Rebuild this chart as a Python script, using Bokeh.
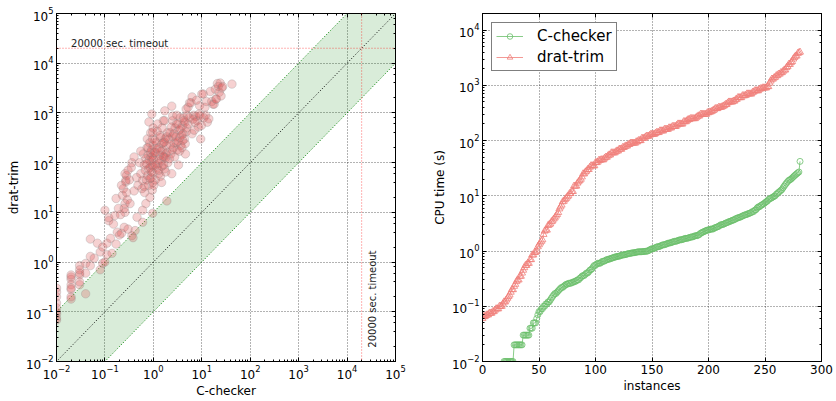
import numpy as np
from bokeh.plotting import figure
from bokeh.layouts import row
from bokeh.models import (LogAxis, LinearAxis, Span, Legend, LegendItem, FixedTicker,
                          LogTicker, CustomJSTickFormatter)
from bokeh.embed import file_html
from bokeh.resources import INLINE
from bokeh.core.properties import value

# ---------------- data (seconds) ----------------
# paired runtimes per instance: C-checker time, drat-trim time
c_checker = [
    # C-checker reported 0.00 s
    0.0, 0.0, 0.0, 0.0, 0.0, 0.0, 0.0, 0.0, 0.0, 0.0,
    0.0, 0.0, 0.0, 0.0, 0.0, 0.0, 0.0, 0.0, 0.0,
    0.01, 0.01, 0.01, 0.01, 0.01, 0.01, 0.01, 0.01, 0.01,
    0.02, 0.02, 0.02, 0.02, 0.02, 0.02, 0.02, 0.02,
    0.03, 0.03, 0.03, 0.03, 0.03, 0.03,
    0.04, 0.04, 0.04, 0.05, 0.05, 0.05,
    0.06, 0.07, 0.08, 0.09, 0.08, 0.1, 0.09,
    0.11, 0.11, 0.12, 0.12, 0.13, 0.14, 0.15, 0.16, 0.17, 0.17, 0.18, 0.19, 0.2, 0.1,
    0.22, 0.25, 0.26, 0.26, 0.27, 0.27, 0.28, 0.26, 0.21, 0.23, 0.24, 0.25, 0.29, 0.3, 0.28, 0.22, 0.3,
    0.36, 0.38, 0.42, 0.36, 0.4, 0.33, 0.45, 0.35, 0.4, 0.48, 0.32, 0.46,
    0.52, 0.55, 0.58, 0.6, 0.6, 0.62, 0.65, 0.66, 0.68, 0.7, 0.7, 0.72, 0.74, 0.75, 0.76, 0.78,
    0.78, 0.8, 0.8, 0.81, 0.82, 0.84, 0.85, 0.86, 0.87, 0.88, 0.9, 0.9, 0.91, 0.92, 0.93, 0.93,
    0.94, 0.95, 0.96, 0.97, 0.97, 0.97, 0.97, 0.98, 0.98, 0.99, 0.99, 0.6, 0.65, 0.72, 0.85, 0.55,
    1.0, 1.05, 1.1, 1.1, 1.15, 1.2, 1.2, 1.25, 1.3, 1.3, 1.35, 1.4, 1.4, 1.45, 1.5, 1.5,
    1.55, 1.6, 1.6, 1.65, 1.7, 1.7, 1.75, 1.8, 1.8, 1.85, 1.9, 1.9, 1.95, 2.0, 1.02, 1.08,
    1.12, 1.18, 1.22, 1.28, 1.32, 1.38, 1.42, 1.48, 1.52, 1.58, 1.62, 1.68, 1.72, 1.78, 1.88,
    2.1, 2.2, 2.3, 2.4, 2.4, 2.5, 2.5, 2.5, 2.6, 2.7, 2.8, 3.0, 3.0, 3.1, 3.2, 3.3,
    3.4, 3.5, 3.6, 3.7, 3.9, 4.0, 4.1, 4.2, 4.4, 4.5, 4.6, 4.8, 5.0, 2.15, 2.25, 2.35,
    2.45, 2.65, 2.75, 2.9, 3.05, 3.25, 3.45, 3.65, 3.85, 4.05, 4.3, 4.55, 4.75, 4.9,
    5.2, 5.2, 5.6, 6.0, 6.3, 6.3, 6.8, 7.0, 7.5, 8.0, 8.5, 9.0, 9.2, 9.5, 5.5, 6.6, 7.2, 7.8, 8.8, 9.8,
    10.0, 10.7, 11.0, 11.6, 12.0, 12.5, 13.0, 14.0, 15.0, 16.0, 17.0, 18.0, 19.0, 19.5,
    20.0, 21.0, 22.0, 23.0, 24.0, 25.0, 26.0, 27.0, 42.0,
]
drat_trim = [
    0.06, 0.065, 0.065, 0.07, 0.07, 0.075, 0.075, 0.08, 0.08, 0.085,
    0.09, 0.09, 0.1, 0.1, 0.11, 0.12, 0.13, 0.14, 0.16,
    0.068, 0.075, 0.09, 0.1, 0.12, 0.15, 0.2, 0.25, 0.3,
    0.35, 0.18, 0.2, 0.28, 0.3, 0.45, 0.5, 0.55,
    0.35, 0.4, 0.55, 0.6, 0.85, 0.7,
    0.23, 0.6, 0.94, 0.85, 1.3, 2.9,
    1.2, 2.4, 0.7, 0.95, 1.6, 11.0, 2.0,
    2.4, 1.4, 6.8, 7.8, 3.0, 1.5, 5.8, 8.6, 2.3, 19.0, 4.0, 12.0, 3.5, 1.0,
    3.8, 5.0, 15.0, 10.0, 41.0, 44.0, 55.0, 60.0, 9.0, 22.0, 30.0, 12.0, 18.0, 4.6, 25.0, 35.0, 70.0,
    3.4, 3.1, 4.3, 100.0, 27.0, 15.0, 50.0, 80.0, 130.0, 35.0, 45.0, 8.0,
    100.0, 60.0, 30.0, 44.0, 6.3, 150.0, 90.0, 25.0, 70.0, 15.0, 120.0, 45.0, 200.0, 300.0, 55.0, 140.0,
    200.0, 75.0, 35.0, 660.0, 110.0, 250.0, 20.0, 80.0, 160.0, 400.0, 50.0, 130.0, 65.0, 180.0, 110.0, 950.0,
    90.0, 28.0, 300.0, 63.0, 40.0, 9.6, 410.0, 140.0, 85.0, 220.0, 500.0, 11.0, 33.0, 95.0, 48.0, 170.0,
    120.0, 160.0, 160.0, 45.0, 250.0, 78.0, 430.0, 95.0, 200.0, 60.0, 140.0, 53.0, 320.0, 110.0, 240.0, 85.0,
    180.0, 250.0, 700.0, 130.0, 75.0, 700.0, 300.0, 150.0, 65.0, 220.0, 160.0, 17.0, 400.0, 100.0, 35.0, 280.0,
    90.0, 190.0, 600.0, 70.0, 115.0, 350.0, 170.0, 40.0, 500.0, 135.0, 90.0, 260.0, 1100.0, 125.0, 330.0,
    300.0, 400.0, 150.0, 60.0, 1370.0, 340.0, 700.0, 870.0, 200.0, 250.0, 500.0, 600.0, 250.0, 180.0, 600.0, 90.0,
    450.0, 320.0, 800.0, 220.0, 200.0, 550.0, 380.0, 800.0, 300.0, 650.0, 150.0, 420.0, 900.0, 120.0, 230.0, 520.0,
    180.0, 380.0, 130.0, 330.0, 900.0, 270.0, 170.0, 480.0, 360.0, 280.0, 700.0, 240.0, 1200.0, 500.0,
    1300.0, 600.0, 1600.0, 1600.0, 2100.0, 380.0, 900.0, 450.0, 850.0, 700.0, 520.0, 1400.0, 870.0, 300.0,
    800.0, 750.0, 650.0, 1800.0, 950.0, 560.0,
    2400.0, 2400.0, 800.0, 1300.0, 900.0, 1700.0, 650.0, 760.0, 2700.0, 1700.0, 1500.0, 1500.0, 3000.0, 1900.0,
    1900.0, 3900.0, 3400.0, 2600.0, 4000.0, 2200.0, 3200.0, 3400.0, 3800.0,
]
timeout = 20000
timeout_label = "20000 sec. timeout"
instance_ticks = [0, 50, 100, 150, 200, 250, 300]
legend_labels = ["C-checker", "drat-trim"]

FONT = "DejaVu Sans"

c_arr = np.array(c_checker)
d_arr = np.array(drat_trim)
vis = c_arr > 0


def style_axis(ax, show=True):
    ax.axis_line_color = "black"
    ax.major_tick_in = 4
    ax.major_tick_out = 0
    ax.minor_tick_in = 2
    ax.minor_tick_out = 0
    ax.major_tick_line_color = "black"
    ax.minor_tick_line_color = "black"
    ax.major_label_text_font = FONT
    ax.major_label_text_color = "black"
    ax.major_label_text_font_size = "12px"
    ax.major_label_standoff = 3 if show else 0
    if not show:
        ax.formatter = CustomJSTickFormatter(code="return '';")
    ax.axis_label_text_font = FONT
    ax.axis_label_text_font_size = "12px"
    ax.axis_label_text_font_style = "normal"
    ax.axis_label_text_color = "black"
    ax.axis_label_standoff = 2


def style_grid(p):
    for g in (p.xgrid, p.ygrid):
        g.grid_line_color = "black"
        g.grid_line_alpha = 0.6
        g.grid_line_dash = "1 2"
        g.grid_line_width = 1


# ---------------- left: scatter ----------------
p1 = figure(width=420, height=401, x_axis_type="log", y_axis_type="log",
            x_range=(1e-2, 1e5), y_range=(1e-2, 1e5),
            output_backend="svg", toolbar_location=None,
            min_border_left=56, min_border_right=25, min_border_top=12, min_border_bottom=40)
p1.outline_line_color = "black"
p1.outline_line_width = 1
p1.xaxis.axis_label = "C-checker"
p1.yaxis.axis_label = "drat-trim"
style_axis(p1.xaxis[0])
style_axis(p1.yaxis[0])
top1 = LogAxis(ticker=LogTicker())
right1 = LogAxis(ticker=LogTicker())
style_axis(top1, False)
style_axis(right1, False)
p1.add_layout(top1, "above")
p1.add_layout(right1, "right")
style_grid(p1)

band_x = np.array([1e-3, 1e6])
p1.varea(x=band_x, y1=band_x / 10, y2=band_x * 10, fill_color="green", fill_alpha=0.15)
p1.line(band_x, band_x * 10, line_color="green", line_dash="1 2", line_width=1)
p1.line(band_x, band_x / 10, line_color="green", line_dash="1 2", line_width=1)
p1.line(band_x, band_x, line_color="black", line_dash="1 2", line_width=1)

p1.add_layout(Span(location=timeout, dimension="width", line_color="red",
                   line_alpha=0.6, line_dash="1 2", line_width=1))
p1.add_layout(Span(location=timeout, dimension="height", line_color="red",
                   line_alpha=0.6, line_dash="1 2", line_width=1))

p1.scatter(c_arr[vis], d_arr[vis], size=8.5, marker="circle",
           fill_color="#e05a5a", fill_alpha=0.28, line_color="#8a8a8a", line_alpha=0.28)

p1.text(x=[0.02], y=[2.5e4], text=[timeout_label], text_font=value(FONT),
        text_font_size="10px", text_baseline="alphabetic", text_align="left", text_color="#222222")
p1.text(x=[3.4e4], y=[0.019], text=[timeout_label], text_font=value(FONT), angle=np.pi / 2,
        text_font_size="10px", text_baseline="alphabetic", text_align="left", text_color="#222222")

# ---------------- right: cactus ----------------
c_sorted = np.sort(c_arr)
d_sorted = np.sort(d_arr)
idx = np.arange(len(c_sorted))
cpos = c_sorted > 0

p2 = figure(width=416, height=401, y_axis_type="log",
            x_range=(0, 300), y_range=(1e-2, 2e4),
            output_backend="svg", toolbar_location=None,
            min_border_left=62, min_border_right=15, min_border_top=13, min_border_bottom=37)
p2.outline_line_color = "black"
p2.outline_line_width = 1
p2.xaxis.axis_label = "instances"
p2.yaxis.axis_label = "CPU time (s)"
p2.xaxis.ticker = FixedTicker(ticks=instance_ticks)
style_axis(p2.xaxis[0])
style_axis(p2.yaxis[0])
top2 = LinearAxis(ticker=FixedTicker(ticks=instance_ticks))
right2 = LogAxis(ticker=LogTicker())
style_axis(top2, False)
style_axis(right2, False)
p2.add_layout(top2, "above")
p2.add_layout(right2, "right")
style_grid(p2)

green = "#6cbf6c"
red = "#f07f7a"
gl = p2.line(idx[cpos], c_sorted[cpos], line_color=green, line_width=1, line_alpha=0.8)
gs = p2.scatter(idx[cpos], c_sorted[cpos], marker="circle", size=6, fill_color=None,
                line_color=green, line_alpha=0.8)
rl = p2.line(idx, d_sorted, line_color=red, line_width=1, line_alpha=0.8)
rs = p2.scatter(idx, d_sorted, marker="triangle", size=7, fill_color=None,
                line_color=red, line_alpha=0.8)

# drop shadow behind the legend box (offset 3 px)
shadow = Legend(items=[LegendItem(label=" ", renderers=[gl]),
                       LegendItem(label=" ", renderers=[rl])],
                location="top_left")
shadow.label_text_font = FONT
shadow.label_text_font_size = "15px"
shadow.label_text_alpha = 0
shadow.glyph_width = 112
shadow.glyph_height = 14
shadow.label_standoff = 0
shadow.label_width = 0
shadow.spacing = 3
shadow.padding = 4
shadow.margin = 12
shadow.border_line_color = None
shadow.background_fill_color = "#8c8c8c"
shadow.background_fill_alpha = 1
p2.add_layout(shadow)

legend = Legend(items=[LegendItem(label=legend_labels[0], renderers=[gl, gs]),
                       LegendItem(label=legend_labels[1], renderers=[rl, rs])],
                location="top_left")
legend.label_text_font = FONT
legend.label_text_font_size = "15px"
legend.label_text_color = "black"
legend.glyph_width = 27
legend.glyph_height = 14
legend.label_standoff = 14
legend.spacing = 3
legend.padding = 4
legend.margin = 9
legend.border_line_color = "black"
legend.border_line_width = 1
legend.background_fill_color = "white"
legend.background_fill_alpha = 1
p2.add_layout(legend)

layout = row(p1, p2)
open("out.html", "w").write(file_html(layout, INLINE))
